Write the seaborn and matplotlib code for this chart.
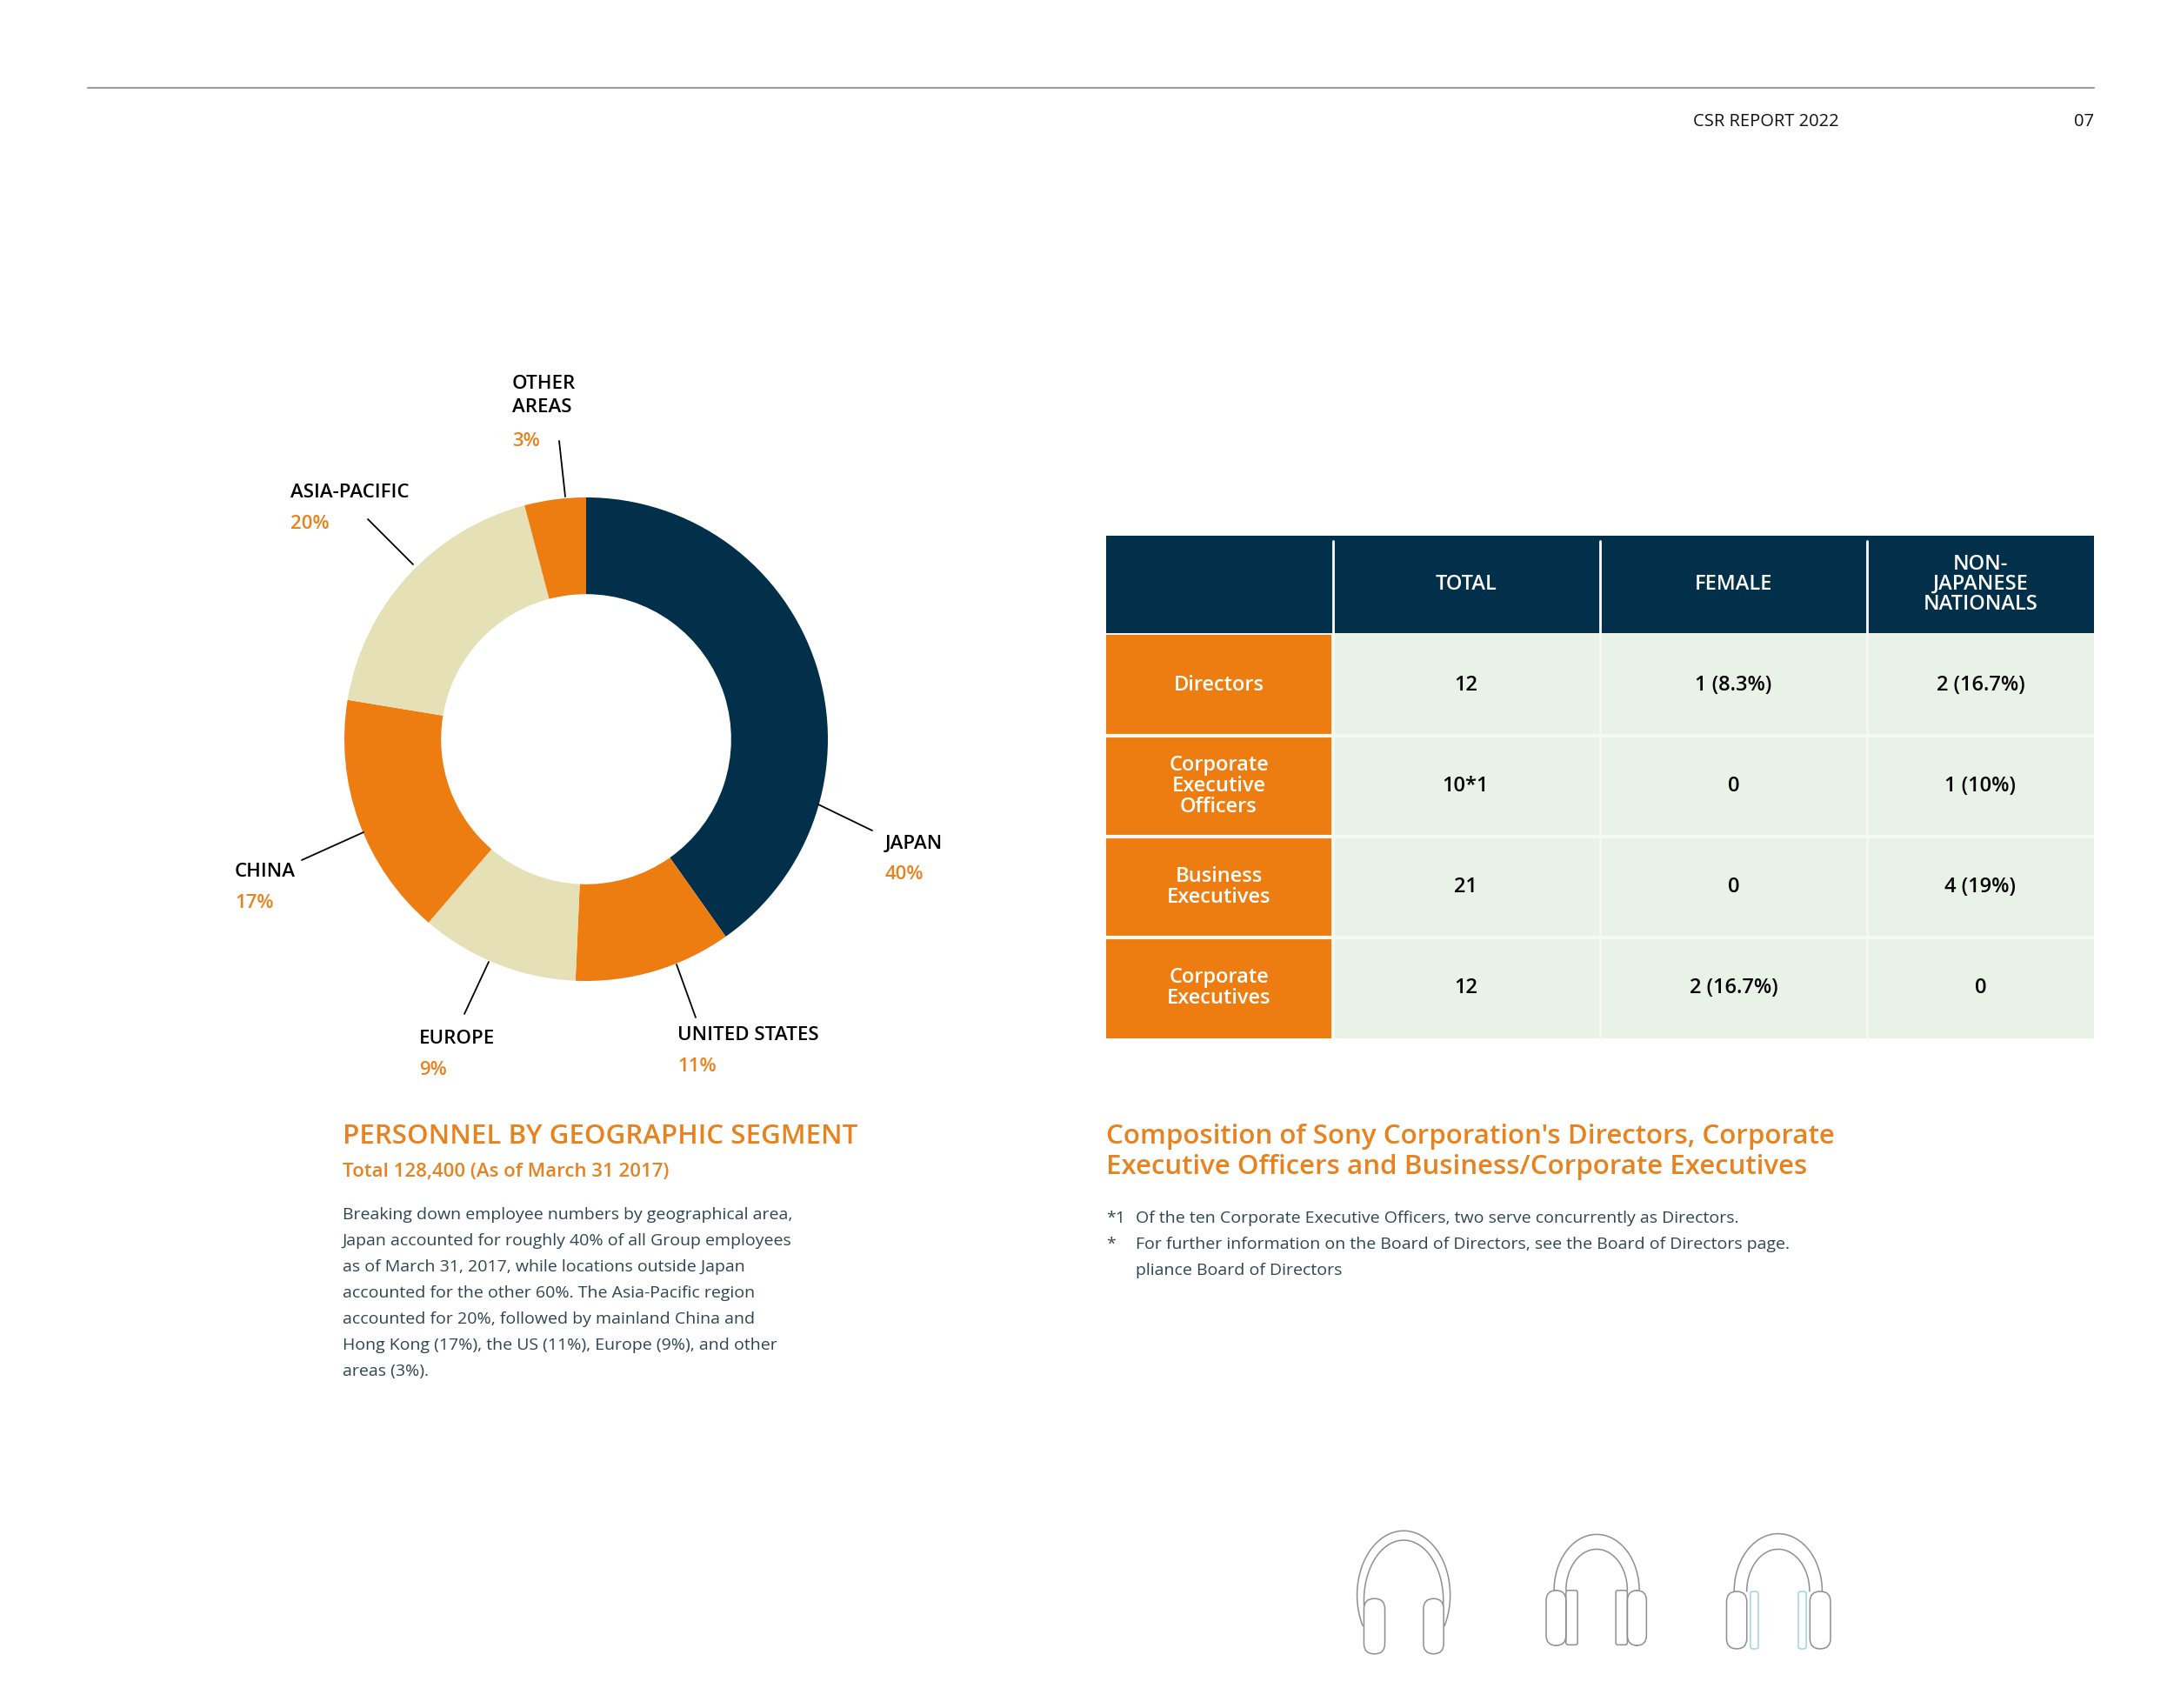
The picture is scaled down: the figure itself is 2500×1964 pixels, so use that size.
import numpy as np
import matplotlib
matplotlib.use('Agg')
import matplotlib.pyplot as plt
from matplotlib.colors import ListedColormap
from matplotlib.patches import FancyBboxPatch
import seaborn as sns

# donut data
regions = ['JAPAN', 'UNITED STATES', 'EUROPE', 'CHINA', 'ASIA-PACIFIC', 'OTHER\nAREAS']
region_pct = ['40%', '11%', '9%', '17%', '20%', '3%']
# slice shares as drawn in the picture (they differ a bit from the printed labels)
slice_share = [40.2, 10.5, 10.6, 16.3, 18.3, 4.1]

# table data
col_heads = ['TOTAL', 'FEMALE', 'NON-\nJAPANESE\nNATIONALS']
row_heads = ['Directors', 'Corporate\nExecutive\nOfficers', 'Business\nExecutives', 'Corporate\nExecutives']
total_col = ['12', '10*1', '21', '12']
female_col = ['1 (8.3%)', '0', '0', '2 (16.7%)']
non_jp_col = ['2 (16.7%)', '1 (10%)', '4 (19%)', '0']

body_left = ['Breaking down employee numbers by geographical area,',
             'Japan accounted for roughly 40% of all Group employees',
             'as of March 31, 2017, while locations outside Japan',
             'accounted for the other 60%. The Asia-Pacific region',
             'accounted for 20%, followed by mainland China and',
             'Hong Kong (17%), the US (11%), Europe (9%), and other',
             'areas (3%).']

NAVY = '#02304a'
ORANGE = '#ee7d11'
BEIGE = '#e5e0b6'
LIGHT = '#e9f2e6'
TITLE = '#e8821e'
SLATE = '#2f4550'

sns.set_theme(style='white')
plt.rcParams['font.family'] = ['Open Sans', 'DejaVu Sans']

W, H = 2500, 1964
fig = plt.figure(figsize=(W / 100, H / 100), dpi=100, facecolor='white')


def px_axes(x0, y0, x1, y1, **kw):
    return fig.add_axes([x0 / W, 1 - y1 / H, (x1 - x0) / W, (y1 - y0) / H], **kw)


# page layer in pixel coordinates
page = px_axes(0, 0, W, H)
page.set_xlim(0, W)
page.set_ylim(H, 0)
page.axis('off')


def txt(x, y, s, size, color='black', weight='normal', ha='left'):
    page.text(x, y, s, fontsize=size, color=color, fontweight=weight, ha=ha, va='center')


page.plot([101, 2408], [101, 101], color='#9a9a9a', lw=1.5)
txt(1947, 140, 'CSR REPORT 2022', 14.5, '#111111')
txt(2408, 140, '07', 14.5, '#111111', ha='right')

# donut
cx, cy, R = 674, 850, 278
ax = px_axes(cx - R, cy - R, cx + R, cy + R)
ax.pie(slice_share, colors=[NAVY, ORANGE, BEIGE, ORANGE, BEIGE, ORANGE], startangle=90,
       counterclock=False, radius=1, wedgeprops=dict(width=0.4, linewidth=0))
ax.set_xlim(-1, 1)
ax.set_ylim(-1, 1)

# donut labels: x, y name, y pct
label_pos = [(1018, 970, 1005), (779, 1190, 1226), (482, 1195, 1230),
             (270, 1002, 1038), (334, 566, 602), (589, 455, 507)]
for name, pct, (x, y1, y2) in zip(regions, region_pct, label_pos):
    page.text(x, y1, name, fontsize=16, fontweight='semibold', color='black', va='center',
              linespacing=1.35)
    txt(x, y2, pct, 16, TITLE, 'semibold')

leaders = [((941, 925), (1003, 955)), ((778, 1109), (800, 1170)), ((562, 1106), (534, 1166)),
           ((418, 957), (347, 989)), ((475, 649), (423, 597)), ((650, 571), (643, 507))]
for a, b in leaders:
    page.plot([a[0], b[0]], [a[1], b[1]], color='black', lw=1.3)

# left text
txt(394, 1307, 'PERSONNEL BY GEOGRAPHIC SEGMENT', 22.5, TITLE, 'semibold')
txt(394, 1347, 'Total 128,400 (As of March 31 2017)', 16, TITLE, 'semibold')
for i, line in enumerate(body_left):
    txt(394, 1397 + i * 30, line, 14, SLATE)

# table
body_rows = (730, 1194)
columns = [(1272, 1531, row_heads, ORANGE, 'white'),
           (1531, 1840, total_col, LIGHT, 'black'),
           (1840, 2147, female_col, LIGHT, 'black'),
           (2147, 2408, non_jp_col, LIGHT, 'black')]
heads = [''] + col_heads
for (x0, x1, vals, color, tc), head in zip(columns, heads):
    top = px_axes(x0, 616, x1, 728)
    sns.heatmap(np.zeros((1, 1)), ax=top, cmap=ListedColormap([NAVY]), cbar=False,
                annot=np.array([[head]]), fmt='', xticklabels=False, yticklabels=False,
                annot_kws=dict(color='white', fontsize=17, fontweight='semibold', linespacing=0.95))
    tab = px_axes(x0, body_rows[0], x1, body_rows[1])
    sns.heatmap(np.zeros((4, 1)), ax=tab, cmap=ListedColormap([color]), cbar=False,
                annot=np.array(vals).reshape(4, 1), fmt='', xticklabels=False, yticklabels=False,
                linewidths=0,
                annot_kws=dict(color=tc, fontsize=17, fontweight='semibold', linespacing=1.0))
    # row separators
    for r in range(1, 4):
        tab.axhline(r, color='#f6f8f2', lw=3)

# light strip between navy header and orange rows, and column rules
page.set_zorder(5)
page.patch.set_visible(False)
page.add_patch(plt.Rectangle((1272, 728), 1136, 2, color='#eef2e6', lw=0))
for x in [1533, 1840, 2147]:
    page.plot([x, x], [622, 728], color='white', lw=2)
    page.plot([x, x], [730, 1194], color='#f6f8f2', lw=2)

# right text
txt(1272, 1307, "Composition of Sony Corporation's Directors, Corporate", 22.5, TITLE, 'semibold')
txt(1272, 1342, 'Executive Officers and Business/Corporate Executives', 22.5, TITLE, 'semibold')
txt(1272, 1401, '*1', 14, SLATE)
txt(1306, 1401, 'Of the ten Corporate Executive Officers, two serve concurrently as Directors.', 14, SLATE)
txt(1272, 1431, '*', 14, SLATE)
txt(1306, 1431, 'For further information on the Board of Directors, see the Board of Directors page.', 14, SLATE)
txt(1306, 1461, 'pliance Board of Directors', 14, SLATE)


# headphone icons (decoration), drawn in crop coordinates
def zx(v):
    return 1500 + v / 2.41


def zy(v):
    return 1720 + v / 2.41


def arc(xc, yc, rx, ry, y_end, color='#8f8f8f'):
    a0 = np.arcsin((yc - y_end) / ry)
    t = np.linspace(np.pi - a0, a0, 80)
    page.plot(zx(xc + rx * np.cos(t)), zy(yc - ry * np.sin(t)), color=color, lw=1.1)


def cup(x0, y0, x1, y1, rad, color='#8f8f8f'):
    px0, py0, px1, py1 = zx(x0), zy(y0), zx(x1), zy(y1)
    r = rad / 2.41
    page.add_patch(FancyBboxPatch((px0 + r, py0 + r), px1 - px0 - 2 * r, py1 - py0 - 2 * r,
                                  boxstyle=f'round,pad={r},rounding_size={r}',
                                  fill=False, ec=color, lw=1.1))


def vline(x, y0, y1):
    page.plot([zx(x), zx(x)], [zy(y0), zy(y1)], color='#8f8f8f', lw=1.1)


arc(275, 275, 129, 178, 360)
arc(275, 290, 110, 167, 305)
cup(165, 285, 223, 438, 28)
cup(330, 285, 386, 438, 28)

arc(810, 262, 118, 155, 262)
arc(810, 262, 85, 114, 262)
cup(670, 262, 725, 415, 28)
cup(725, 262, 757, 413, 6)
cup(895, 262, 948, 415, 28)
cup(863, 262, 895, 413, 6)

arc(1313, 265, 122, 160, 265)
arc(1313, 265, 87, 117, 265)
cup(1170, 265, 1226, 424, 28)
cup(1401, 265, 1458, 424, 28)
cup(1236, 265, 1258, 424, 6, '#9fd6e0')
cup(1369, 265, 1391, 424, 6, '#9fd6e0')

fig.savefig('out.png', dpi=100, facecolor='white')
